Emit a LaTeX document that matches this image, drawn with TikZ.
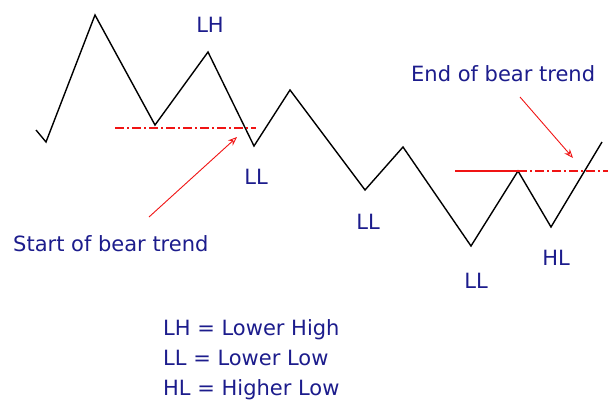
\documentclass[tikz,border=0pt]{standalone}
\usepackage{fontspec}
\setmainfont{DejaVu Sans}
\usetikzlibrary{arrows.meta,positioning}
\definecolor{TrendNavy}{RGB}{28,28,140}
\definecolor{TrendRed}{RGB}{240,20,20}
\tikzset{
    trend/.style={draw=black, line width=1.4pt, line join=miter},
    level/.style={draw=TrendRed, line width=1.4pt,
                  dash pattern=on 9pt off 3pt on 2pt off 3pt},
    tag/.style={text=TrendNavy, font=\fontsize{21}{25}\selectfont, inner sep=0pt},
    note/.style={text=TrendNavy, font=\fontsize{21}{25}\selectfont, inner sep=0pt, anchor=base west},
    % Arrow style
    pointer/.style={-{Stealth[open,length=9pt,width=7pt]}, draw=TrendRed, line width=0.9pt}
}
\begin{document}
\begin{tikzpicture}[x=1pt, y=-1pt]
    \useasboundingbox (0,0) rectangle (608,405);

    % Price swings
    \coordinate (p0) at (36,130);
    \coordinate (p1) at (46,142);
    \coordinate (p2) at (95,15);
    \coordinate (p3) at (155,125);
    \coordinate (p4) at (208,52);
    \coordinate (p5) at (254,146);
    \coordinate (p6) at (290,90);
    \coordinate (p7) at (365,190);
    \coordinate (p8) at (403,147);
    \coordinate (p9) at (471,246);
    \coordinate (p10) at (518,171);
    \coordinate (p11) at (551,227);
    \coordinate (p12) at (602,142);
    \draw[trend] (p0) -- (p1) -- (p2) -- (p3) -- (p4) -- (p5) -- (p6)
        -- (p7) -- (p8) -- (p9) -- (p10) -- (p11) -- (p12);

    % Break levels
    \coordinate (lvlA) at (115,128);
    \coordinate (lvlB) at (256,128);
    \draw[level] (lvlA) -- (lvlB);
    \coordinate (lvlC) at (455,171);
    \coordinate (lvlD) at (608,171);
    \draw[draw=TrendRed, line width=1.4pt] (lvlC) -- (p10);
    \draw[level] (p10) -- (lvlD);

    % Swing labels
    \node[tag] (lh) at (210,25) {LH};
    \node[tag] (ll1) at (256,177) {LL};
    \node[tag] (ll2) at (368,222) {LL};
    \node[tag] (ll3) at (476,281) {LL};
    \node[tag] (hl) at (556,258) {HL};

    % Trend notes
    \node[note] (start) at (13,251) {Start of bear trend};
    \node[note] (end) at (411,81) {End of bear trend};
    \coordinate (startTail) at (149,217);
    \coordinate (startTip) at (237,137);
    \draw[pointer] (startTail) -- (startTip);
    \coordinate (endTail) at (520,97);
    \coordinate (endTip) at (573,158);
    \draw[pointer] (endTail) -- (endTip);

    % Legend
    \node[note] (keyLH) at (163,335) {LH = Lower High};
    \node[note] (keyLL) at (163,365) {LL = Lower Low};
    \node[note] (keyHL) at (163,395) {HL = Higher Low};
\end{tikzpicture}
\end{document}
